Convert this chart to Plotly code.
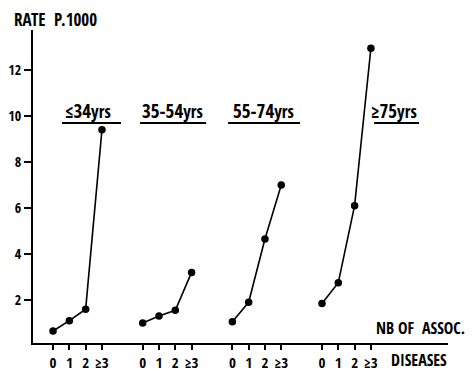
import plotly.graph_objects as go

# ---- data ----
age_groups = ["≤34", "35-54", "55-74", "≥75"]
nb_assoc = ["0", "1", "2", "≥3"]
rate_under34 = [0.65, 1.1, 1.6, 9.4]
rate_35_54 = [1.0, 1.3, 1.55, 3.2]
rate_55_74 = [1.05, 1.9, 4.65, 7.0]
rate_75plus = [1.85, 2.75, 6.1, 12.95]
y_ticks = [2, 4, 6, 8, 10, 12]

series = [rate_under34, rate_35_54, rate_55_74, rate_75plus]

GROUP_GAP = 5.5
FONT = "Open Sans Condensed, Roboto Condensed, DejaVu Sans Condensed, sans-serif"

fig = go.Figure()
xt_vals, xt_text = [], []
for g, vals in enumerate(series):
    xs = [g * GROUP_GAP + i for i in range(len(nb_assoc))]
    xt_vals += xs
    xt_text += nb_assoc
    fig.add_trace(go.Scatter(
        x=xs, y=vals, mode="lines+markers",
        line=dict(color="black", width=1.6),
        marker=dict(color="black", size=7.5),
        showlegend=False, hoverinfo="skip"))

# group labels (center x, underline span) in axis units
label_cx = [2.15, 7.3, 12.94, 20.9]
underline = [(0.55, 4.17), (5.34, 9.39), (10.74, 15.15), (19.7, 22.45)]
for name, cx, (u0, u1) in zip(age_groups, label_cx, underline):
    fig.add_annotation(x=cx, y=10.2, xref="x", yref="y", showarrow=False,
                       text=f"{name}<span style='font-size:17px'>yrs</span>",
                       font=dict(family=FONT, size=19, color="black"),
                       xanchor="center", yanchor="middle")
    fig.add_shape(type="line", xref="x", yref="y", x0=u0, x1=u1, y0=9.7, y1=9.7,
                  line=dict(color="black", width=2))

fig.add_annotation(xref="paper", yref="paper", x=-0.05, y=1.032, showarrow=False,
                   text="RATE  P.1000", xanchor="left", yanchor="middle",
                   font=dict(family=FONT, size=17, color="black"))
fig.add_annotation(xref="paper", yref="paper", x=1.045, y=0.048, showarrow=False,
                   text="NB OF  ASSOC.", xanchor="right", yanchor="middle",
                   font=dict(family=FONT, size=16, color="black"))
fig.add_annotation(xref="paper", yref="paper", x=0.858, y=-0.054, showarrow=False,
                   text="DISEASES", xanchor="left", yanchor="middle",
                   font=dict(family=FONT, size=16, color="black"))

fig.update_layout(
    width=475, height=371,
    margin=dict(l=33, r=27, t=30, b=28),
    paper_bgcolor="white", plot_bgcolor="white",
    xaxis=dict(range=[-1.23, 24.23], showgrid=False, zeroline=False,
               showline=True, linecolor="black", linewidth=2,
               ticks="outside", ticklen=5, tickwidth=1.5, tickcolor="black",
               tickvals=xt_vals, ticktext=xt_text, automargin=False,
               tickfont=dict(family=FONT, size=15, color="black")),
    yaxis=dict(range=[0.13, 13.74], showgrid=False, zeroline=False,
               showline=True, linecolor="black", linewidth=2,
               ticks="outside", ticklen=7, tickwidth=1.5, tickcolor="black",
               tickvals=y_ticks, automargin=False,
               tickfont=dict(family=FONT, size=14, color="black")),
)

fig.write_html("out.html", config={"displayModeBar": False},
               post_script="document.body.style.margin='0';")
